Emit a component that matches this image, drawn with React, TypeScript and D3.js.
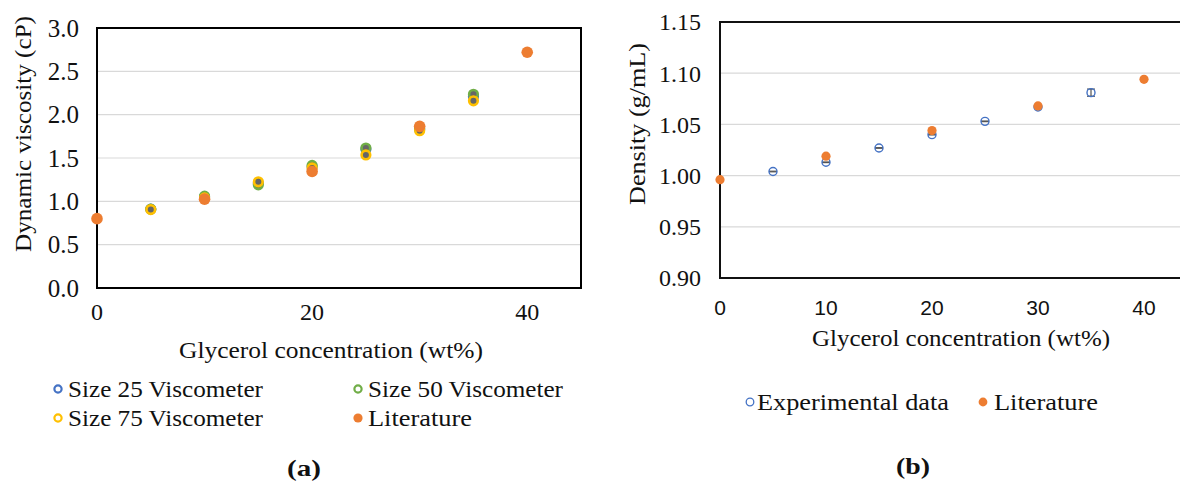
import React, { useRef, useEffect } from "react";
import * as d3 from "d3";

// Panel (a): dynamic viscosity
const viscConc = [5, 10, 15, 20, 25, 30, 35];
const size25 = [0.91, 1.05, 1.21, 1.4, 1.6, 1.83, 2.21];
const size50 = [0.91, 1.06, 1.19, 1.415, 1.615, 1.84, 2.235];
const size75 = [0.905, 1.04, 1.225, 1.385, 1.535, 1.815, 2.16];
const litViscConc = [0, 10, 20, 30, 40];
const litVisc = [0.8, 1.025, 1.345, 1.865, 2.72];
const viscTicksY = [0, 0.5, 1, 1.5, 2, 2.5, 3];
const viscTicksX = [0, 20, 40];

// Panel (b): density
const densConc = [5, 10, 15, 20, 25, 30, 35];
const densExp = [1.004, 1.013, 1.027, 1.04, 1.053, 1.067, 1.081];
const densErr = [0.0003, 0.0003, 0.0003, 0.0003, 0.0003, 0.0003, 0.0035];
const litDensConc = [0, 10, 20, 30, 40];
const litDens = [0.996, 1.019, 1.044, 1.068, 1.094];
const densTicksY = [0.9, 0.95, 1.0, 1.05, 1.1, 1.15];
const densTicksX = [0, 10, 20, 30, 40];

const BLUE = "#4472C4";
const GREEN = "#70AD47";
const YELLOW = "#FFC000";
const ORANGE = "#ED7D31";
const SERIF = "'Liberation Serif', 'DejaVu Serif', serif";
const SANS = "'Liberation Sans', Arial, sans-serif";

const App = () => {
  const ref = useRef<SVGSVGElement | null>(null);

  useEffect(() => {
    if (!ref.current) return;
    const svg = d3.select(ref.current);
    svg.selectAll("*").remove();

    // serif label stretched to the reference width (Computer Modern is wider)
    const label = (g, x, y, txt, len, opts: any = {}) => {
      const t = g
        .append("text")
        .attr("x", x)
        .attr("y", y)
        .attr("dy", "0.35em")
        .attr("text-anchor", opts.anchor || "start")
        .attr("font-family", SERIF)
        .attr("font-size", opts.size || 23)
        .attr("font-weight", opts.bold ? "bold" : "normal")
        .attr("fill", "#111")
        .attr("textLength", len)
        .attr("lengthAdjust", "spacingAndGlyphs")
        .text(txt);
      if (opts.rotate) t.attr("transform", `rotate(-90,${x},${y})`);
      return t;
    };

    // ---------- panel (a) ----------
    const xa = d3.scaleLinear().domain([0, 45]).range([97, 581]);
    const ya = d3.scaleLinear().domain([0, 3]).range([288, 28]);
    const ga = svg.append("g");

    ga.selectAll(".grid")
      .data(viscTicksY.slice(1, -1))
      .enter()
      .append("line")
      .attr("x1", xa(0))
      .attr("x2", xa(45))
      .attr("y1", (d) => ya(d))
      .attr("y2", (d) => ya(d))
      .attr("stroke", "#d9d9d9")
      .attr("stroke-width", 1.2);

    ga.append("rect")
      .attr("x", xa(0))
      .attr("y", ya(3))
      .attr("width", xa(45) - xa(0))
      .attr("height", ya(0) - ya(3))
      .attr("fill", "none")
      .attr("stroke", "#000")
      .attr("stroke-width", 2);

    ga.selectAll(".ytick")
      .data(viscTicksY)
      .enter()
      .append("text")
      .attr("x", 79)
      .attr("y", (d) => ya(d))
      .attr("dy", "0.35em")
      .attr("text-anchor", "end")
      .attr("font-family", SERIF)
      .attr("font-size", 25)
      .attr("fill", "#111")
      .text((d) => d3.format(".1f")(d));

    ga.selectAll(".xtick")
      .data(viscTicksX)
      .enter()
      .append("text")
      .attr("x", (d) => xa(d))
      .attr("y", 312)
      .attr("dy", "0.35em")
      .attr("text-anchor", "middle")
      .attr("font-family", SERIF)
      .attr("font-size", 24)
      .attr("fill", "#111")
      .text((d) => d);

    label(ga, 23, 134, "Dynamic viscosity (cP)", 236, { anchor: "middle", rotate: true, size: 24 });
    label(ga, 331, 350, "Glycerol concentration (wt%)", 304, { anchor: "middle" });

    const openSeries = [
      { vals: size25, color: BLUE },
      { vals: size50, color: GREEN },
      { vals: size75, color: YELLOW },
    ];
    openSeries.forEach((s) => {
      ga.selectAll(null)
        .data(viscConc)
        .enter()
        .append("circle")
        .attr("cx", (d) => xa(d))
        .attr("cy", (d, i) => ya(s.vals[i]))
        .attr("r", 4.3)
        .attr("fill", "#666")
        .attr("stroke", s.color)
        .attr("stroke-width", 2.6);
    });
    ga.selectAll(null)
      .data(litViscConc)
      .enter()
      .append("circle")
      .attr("cx", (d) => xa(d))
      .attr("cy", (d, i) => ya(litVisc[i]))
      .attr("r", 5.8)
      .attr("fill", ORANGE);

    // legend (a)
    const legA = [
      { label: "Size 25 Viscometer", color: BLUE, open: true, x: 58, y: 389, w: 195 },
      { label: "Size 50 Viscometer", color: GREEN, open: true, x: 358, y: 389, w: 195 },
      { label: "Size 75 Viscometer", color: YELLOW, open: true, x: 58, y: 418, w: 195 },
      { label: "Literature", color: ORANGE, open: false, x: 358, y: 418, w: 104 },
    ];
    legA.forEach((l) => {
      ga.append("circle")
        .attr("cx", l.x)
        .attr("cy", l.y)
        .attr("r", l.open ? 3.6 : 4.6)
        .attr("fill", l.open ? "#fff" : l.color)
        .attr("stroke", l.open ? l.color : "none")
        .attr("stroke-width", 2.2);
      label(ga, l.x + 10, l.y, l.label, l.w);
    });

    label(ga, 304, 468, "(a)", 34, { anchor: "middle", bold: true, size: 24 });

    // ---------- panel (b) ----------
    const xb = d3.scaleLinear().domain([0, 45]).range([720, 1197]);
    const yb = d3.scaleLinear().domain([0.9, 1.15]).range([278, 22]);
    const gb = svg.append("g");

    gb.selectAll(".grid")
      .data(densTicksY.slice(1, -1))
      .enter()
      .append("line")
      .attr("x1", xb(0))
      .attr("x2", xb(45))
      .attr("y1", (d) => yb(d))
      .attr("y2", (d) => yb(d))
      .attr("stroke", "#d9d9d9")
      .attr("stroke-width", 1.2);

    gb.append("rect")
      .attr("x", xb(0))
      .attr("y", yb(1.15))
      .attr("width", xb(45) - xb(0))
      .attr("height", yb(0.9) - yb(1.15))
      .attr("fill", "none")
      .attr("stroke", "#111")
      .attr("stroke-width", 2);

    gb.selectAll(".ytick")
      .data(densTicksY)
      .enter()
      .append("text")
      .attr("x", 701)
      .attr("y", (d) => yb(d))
      .attr("dy", "0.35em")
      .attr("text-anchor", "end")
      .attr("font-family", SERIF)
      .attr("font-size", 24)
      .attr("fill", "#111")
      .text((d) => d3.format(".2f")(d));

    gb.selectAll(".xtick")
      .data(densTicksX)
      .enter()
      .append("text")
      .attr("x", (d) => xb(d))
      .attr("y", 308)
      .attr("dy", "0.35em")
      .attr("text-anchor", "middle")
      .attr("font-family", SANS)
      .attr("font-size", 21)
      .attr("fill", "#111")
      .text((d) => d);

    label(gb, 637, 124, "Density (g/mL)", 162, { anchor: "middle", rotate: true, size: 24 });
    label(gb, 961, 338, "Glycerol concentration (wt%)", 298, { anchor: "middle" });

    // error bars + open markers
    densConc.forEach((c, i) => {
      const cx = xb(c);
      const y0 = yb(densExp[i] - densErr[i]);
      const y1 = yb(densExp[i] + densErr[i]);
      gb.append("line")
        .attr("x1", cx)
        .attr("x2", cx)
        .attr("y1", y0)
        .attr("y2", y1)
        .attr("stroke", "#555")
        .attr("stroke-width", 1.2);
      [y0, y1].forEach((yy) => {
        gb.append("line")
          .attr("x1", cx - 4)
          .attr("x2", cx + 4)
          .attr("y1", yy)
          .attr("y2", yy)
          .attr("stroke", "#555")
          .attr("stroke-width", 1.2);
      });
    });
    gb.selectAll(null)
      .data(densConc)
      .enter()
      .append("circle")
      .attr("cx", (d) => xb(d))
      .attr("cy", (d, i) => yb(densExp[i]))
      .attr("r", 4)
      .attr("fill", "none")
      .attr("stroke", BLUE)
      .attr("stroke-width", 1.4);
    gb.selectAll(null)
      .data(litDensConc)
      .enter()
      .append("circle")
      .attr("cx", (d) => xb(d))
      .attr("cy", (d, i) => yb(litDens[i]))
      .attr("r", 4.6)
      .attr("fill", ORANGE);

    // legend (b)
    gb.append("circle")
      .attr("cx", 750)
      .attr("cy", 402)
      .attr("r", 3.8)
      .attr("fill", "none")
      .attr("stroke", BLUE)
      .attr("stroke-width", 1.3);
    label(gb, 757, 402, "Experimental data", 192);
    gb.append("circle")
      .attr("cx", 983)
      .attr("cy", 402)
      .attr("r", 4.4)
      .attr("fill", ORANGE);
    label(gb, 994, 402, "Literature", 104);

    label(gb, 913, 466, "(b)", 34, { anchor: "middle", bold: true, size: 24 });
  }, []);

  return (
    <svg
      ref={ref}
      width={1180}
      height={484}
      style={{ position: "absolute", left: 0, top: 0, background: "#fff" }}
    ></svg>
  );
};

export default App;
